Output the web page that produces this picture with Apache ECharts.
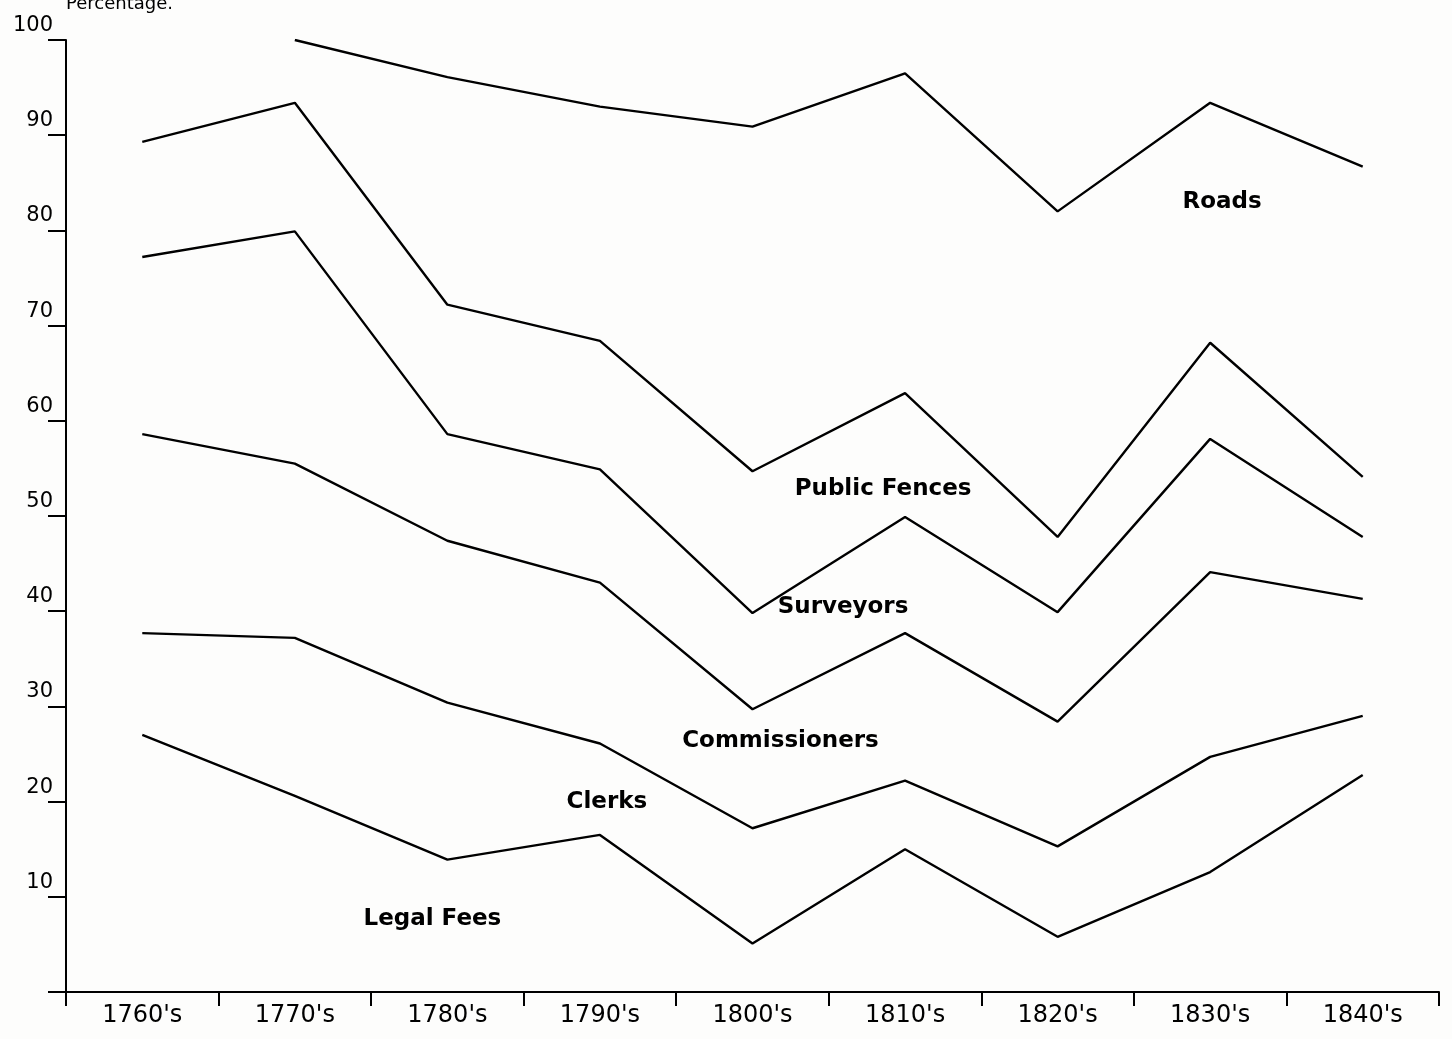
<!DOCTYPE html>
<html>
<head>
<meta charset="utf-8">
<title>Percentage of enclosure costs</title>
<script src="https://cdn.jsdelivr.net/npm/echarts@6/dist/echarts.min.js"></script>
<style>
  html, body { margin: 0; padding: 0; background: #fdfdfc; }
  #chart { width: 1452px; height: 1039px; }
</style>
</head>
<body>
<div id="chart"></div>
<script>
// decades on the x axis
var decades = ["1760's", "1770's", "1780's", "1790's", "1800's", "1810's", "1820's", "1830's", "1840's"];

// cumulative boundary lines, top to bottom (percent)
var roadsTop        = [null, 100, 96.1, 93.0, 90.9, 96.5, 82.0, 93.4, 86.7];
var fencesTop       = [89.3, 93.4, 72.2, 68.4, 54.7, 62.9, 47.8, 68.2, 54.1];
var surveyorsTop    = [77.2, 79.9, 58.6, 54.9, 39.8, 49.9, 39.9, 58.1, 47.8];
var commissionTop   = [58.6, 55.5, 47.4, 43.0, 29.7, 37.7, 28.4, 44.1, 41.3];
var clerksTop       = [37.7, 37.2, 30.4, 26.1, 17.2, 22.2, 15.3, 24.7, 29.0];
var legalTop        = [27.0, 20.6, 13.9, 16.5, 5.1, 15.0, 5.8, 12.6, 22.8];

// band labels: text, decade it sits near, height on the axis
var bandNames  = ['Roads', 'Public Fences', 'Surveyors', 'Commissioners', 'Clerks', 'Legal Fees'];
var bandDecade = [7, 5, 5, 4, 3, 2];
var bandValue  = [83.0, 52.8, 40.4, 26.4, 20.0, 7.7];

var yTicks = [0, 10, 20, 30, 40, 50, 60, 70, 80, 90, 100];

var chart = echarts.init(document.getElementById('chart'));
var ink = '#000';
var font = 'DejaVu Sans';

// nudges so the hand placed labels sit where the original has them
var nudge = { 'Roads': 12, 'Public Fences': -22, 'Surveyors': -62, 'Commissioners': 28, 'Clerks': 7, 'Legal Fees': -15 };

function boundary(name, data) {
  return {
    name: name,
    type: 'line',
    data: data,
    symbol: 'none',
    connectNulls: false,
    lineStyle: { color: ink, width: 2.4 },
    silent: true,
    animation: false
  };
}

var series = [
  boundary('Roads', roadsTop),
  boundary('Public Fences', fencesTop),
  boundary('Surveyors', surveyorsTop),
  boundary('Commissioners', commissionTop),
  boundary('Clerks', clerksTop),
  boundary('Legal Fees', legalTop),
  {
    name: 'labels',
    type: 'scatter',
    symbolSize: 0,
    silent: true,
    animation: false,
    data: bandNames.map(function (n, i) {
      return {
        name: n,
        value: [bandDecade[i], bandValue[i]],
        label: { offset: [nudge[n], 0] }
      };
    }),
    label: {
      show: true,
      position: 'inside',
      formatter: '{b}',
      color: ink,
      textBorderWidth: 0,
      opacity: 1,
      fontFamily: font,
      fontSize: 23,
      fontWeight: 'bold'
    }
  }
];

chart.setOption({
  backgroundColor: '#fdfdfc',
  animation: false,
  grid: { left: 66, right: 13, top: 40, bottom: 47, outerBoundsMode: 'none', containLabel: false },
  xAxis: {
    type: 'category',
    data: decades,
    boundaryGap: true,
    axisLine: { lineStyle: { color: ink, width: 2 } },
    axisTick: { show: true, inside: false, length: 14, lineStyle: { color: ink, width: 2 } },
    axisLabel: { color: ink, fontFamily: font, fontSize: 24, margin: 12 },
    splitLine: { show: false }
  },
  yAxis: {
    type: 'value',
    min: yTicks[0],
    max: yTicks[yTicks.length - 1],
    interval: 10,
    name: 'Percentage.',
    nameLocation: 'end',
    nameGap: 36,
    nameTextStyle: { color: ink, fontFamily: font, fontSize: 18, align: 'left', verticalAlign: 'middle' },
    axisLine: { show: true, lineStyle: { color: ink, width: 2 } },
    axisTick: { show: true, inside: false, length: 18, lineStyle: { color: ink, width: 2 } },
    axisLabel: {
      color: ink, fontFamily: font, fontSize: 21, margin: 13,
      verticalAlign: 'bottom',
      padding: [0, 0, 4, 0],
      formatter: function (v) { return v === 0 ? '' : String(v); }
    },
    splitLine: { show: false }
  },
  series: series
});
</script>
</body>
</html>
